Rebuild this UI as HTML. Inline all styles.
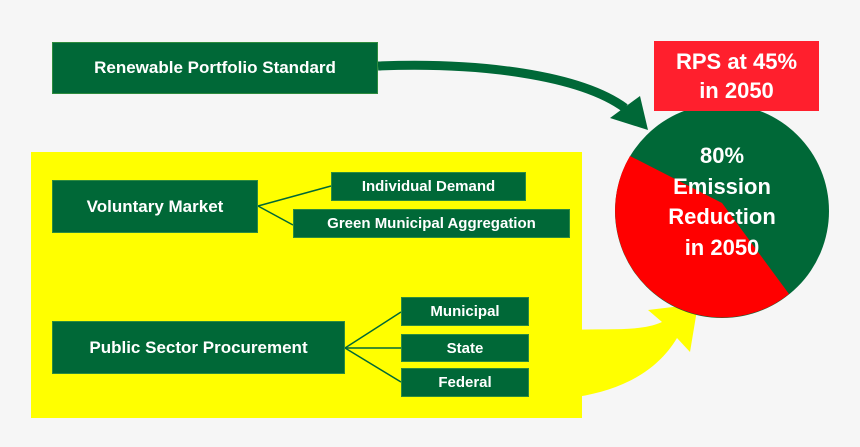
<!DOCTYPE html>
<html><head><meta charset="utf-8"><style>
body{margin:0;width:860px;height:447px;background:#f6f6f6;overflow:hidden;position:relative;font-family:"Liberation Sans",sans-serif;}
.b{position:absolute;background:#006837;color:#fff;font-weight:bold;display:flex;align-items:center;justify-content:center;box-sizing:border-box;border:1px solid #2e8b3e;}
</style></head><body>
<div style="position:absolute;left:31px;top:152px;width:551px;height:266px;background:#ffff00"></div>
<svg width="860" height="447" style="position:absolute;left:0;top:0">
<path d="M570 330 C610 328,640 332,662 322 L648 310 L698 304 L690 352 L677 338 C655 375,615 392,570 398 Z" fill="#ffff00"/>
<path d="M378 66 C480 62,580 75,625 108" stroke="#006837" stroke-width="9" fill="none"/>
<polygon points="610,118 640,96 648,130" fill="#006837"/>
<circle cx="722" cy="211" r="107" fill="#006837"/>
<path d="M630 156 L722 203 L789 294 A107 107 0 0 1 630 156 Z" fill="#ff0000"/>
<g stroke="#006837" stroke-width="1.5" fill="none">
<line x1="258" y1="206" x2="331" y2="186"/><line x1="258" y1="206" x2="293" y2="225"/>
<line x1="345" y1="348" x2="401" y2="312"/><line x1="345" y1="348" x2="401" y2="348"/><line x1="345" y1="348" x2="401" y2="382"/>
</g>
<text x="722" y="163" fill="#fff" font-size="22" font-weight="bold" text-anchor="middle" font-family="Liberation Sans">80%</text>
<text x="722" y="194" fill="#fff" font-size="22" font-weight="bold" text-anchor="middle" font-family="Liberation Sans">Emission</text>
<text x="722" y="224" fill="#fff" font-size="22" font-weight="bold" text-anchor="middle" font-family="Liberation Sans">Reduction</text>
<text x="722" y="255" fill="#fff" font-size="22" font-weight="bold" text-anchor="middle" font-family="Liberation Sans">in 2050</text>
</svg>
<div class="b" style="left:654px;top:41px;width:165px;height:70px;background:#ff1f2d;border:none;font-size:22px;text-align:center;line-height:29px">RPS at 45%<br>in 2050</div>
<div class="b" style="left:52px;top:42px;width:326px;height:52px;font-size:17px">Renewable Portfolio Standard</div>
<div class="b" style="left:52px;top:180px;width:206px;height:53px;font-size:17px">Voluntary Market</div>
<div class="b" style="left:331px;top:172px;width:195px;height:29px;font-size:15px">Individual Demand</div>
<div class="b" style="left:293px;top:209px;width:277px;height:29px;font-size:15px">Green Municipal Aggregation</div>
<div class="b" style="left:52px;top:321px;width:293px;height:53px;font-size:17px">Public Sector Procurement</div>
<div class="b" style="left:401px;top:297px;width:128px;height:29px;font-size:15px">Municipal</div>
<div class="b" style="left:401px;top:334px;width:128px;height:28px;font-size:15px">State</div>
<div class="b" style="left:401px;top:368px;width:128px;height:29px;font-size:15px">Federal</div>
</body></html>
